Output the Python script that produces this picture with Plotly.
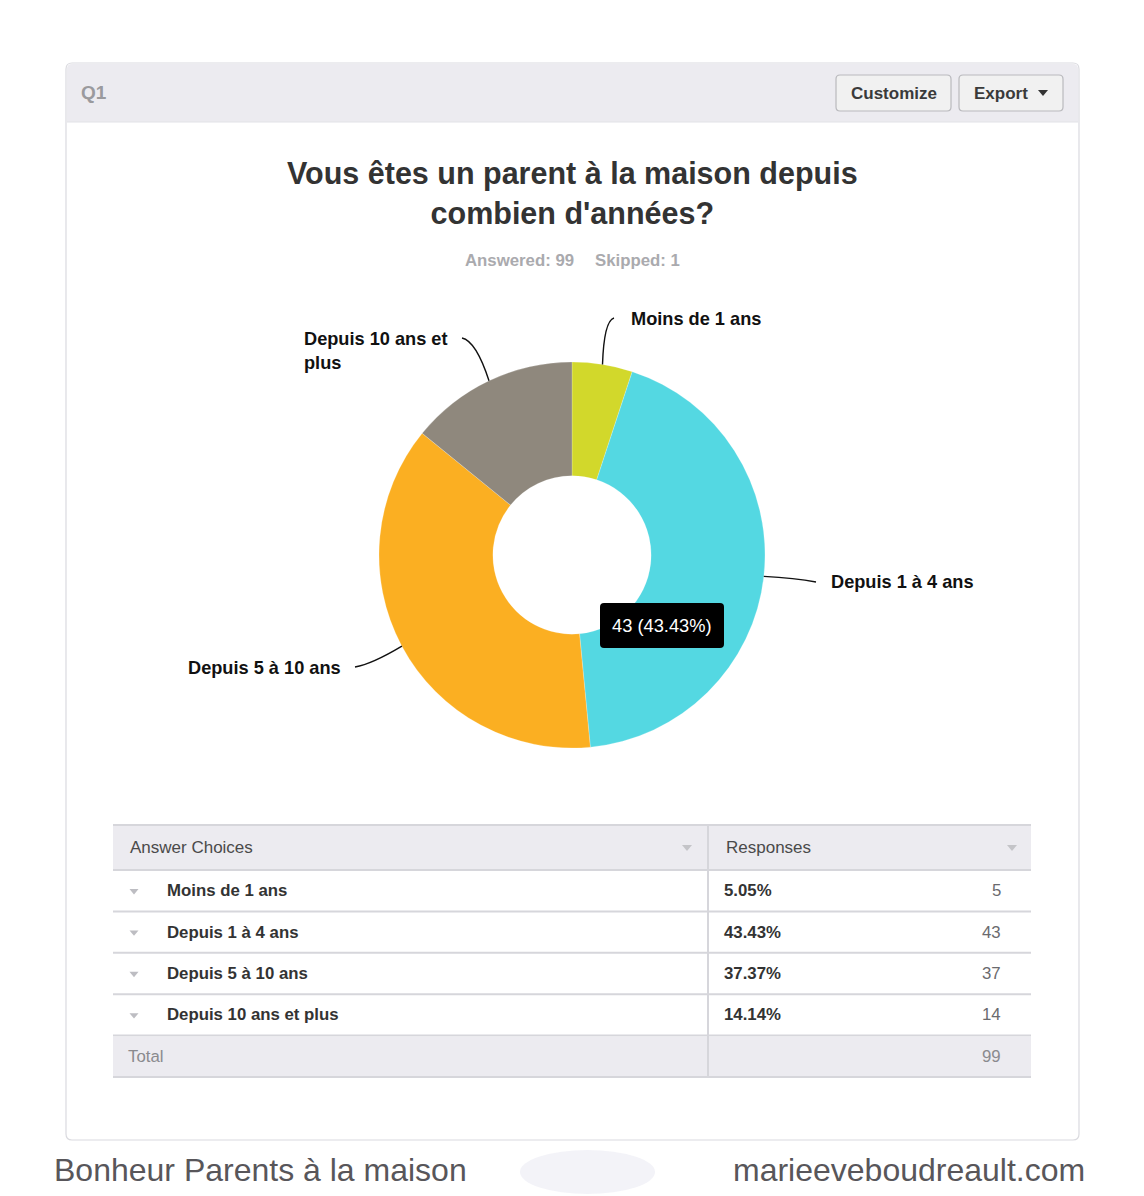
import math
import plotly.graph_objects as go

# ---------------- data ----------------
categories = ["Moins de 1 ans", "Depuis 1 à 4 ans", "Depuis 5 à 10 ans", "Depuis 10 ans et plus"]
chart_labels = ["Moins de 1 ans", "Depuis 1 à 4 ans", "Depuis 5 à 10 ans", "Depuis 10 ans et<br>plus"]
counts = [5, 43, 37, 14]
slice_colors = ["#D2D82B", "#54D8E2", "#FBAF22", "#8F887D"]
answered = 99
skipped = 1
question_id = "Q1"
title_text = "Vous êtes un parent à la maison depuis<br>combien d'années?"
table_headers = ["Answer Choices", "Responses"]
tooltip_index = 1
footer_left = "Bonheur Parents à la maison"
footer_right = "marieeveboudreault.com"

total = sum(counts)
pcts = [c / total * 100 for c in counts]

# page is 1144x1196; the html body has an 8px margin
PAGE_W, PAGE_H, OFF = 1144, 1196, 8
W, H = PAGE_W - OFF, PAGE_H - OFF
FONT = "Liberation Sans, Arial, Helvetica, sans-serif"

# pie geometry (page pixels)
CX, CY, R = 572, 555, 193
HOLE = 0.41

fig = go.Figure()
fig.add_trace(go.Pie(
    labels=categories, values=counts, sort=False, direction="clockwise",
    rotation=0, hole=HOLE, textinfo="none", hoverinfo="none",
    marker=dict(colors=slice_colors, line=dict(color="rgba(255,255,255,0.35)", width=0.6)),
    domain=dict(x=[(CX - R - OFF) / W, (CX + R - OFF) / W],
                y=[1 - (CY + R - OFF) / H, 1 - (CY - R - OFF) / H]),
    showlegend=False,
))

shapes = []
ann = []


def rrect(x0, y0, x1, y1, r, fill, line=None, lw=1, layer="below"):
    p = (f"M{x0+r},{y0} L{x1-r},{y0} Q{x1},{y0} {x1},{y0+r} L{x1},{y1-r} "
         f"Q{x1},{y1} {x1-r},{y1} L{x0+r},{y1} Q{x0},{y1} {x0},{y1-r} "
         f"L{x0},{y0+r} Q{x0},{y0} {x0+r},{y0} Z")
    shapes.append(dict(type="path", path=p, xref="x", yref="y", fillcolor=fill,
                       line=dict(color=line or fill, width=lw if line else 0), layer=layer))


def rect(x0, y0, x1, y1, fill, layer="below"):
    shapes.append(dict(type="rect", x0=x0, y0=y0, x1=x1, y1=y1, xref="x", yref="y",
                       fillcolor=fill, line=dict(width=0), layer=layer))


def hline(x0, x1, y, color, w=1):
    shapes.append(dict(type="line", x0=x0, x1=x1, y0=y, y1=y, xref="x", yref="y",
                       line=dict(color=color, width=w), layer="below"))


def vline(x, y0, y1, color, w=1):
    shapes.append(dict(type="line", x0=x, x1=x, y0=y0, y1=y1, xref="x", yref="y",
                       line=dict(color=color, width=w), layer="below"))


def tri(x, y, color, s=5):
    p = f"M{x-s},{y-s*0.6} L{x+s},{y-s*0.6} L{x},{y+s*0.6} Z"
    shapes.append(dict(type="path", path=p, xref="x", yref="y", fillcolor=color,
                       line=dict(width=0), layer="below"))


def text(x, y, t, size, color, bold=False, xanchor="left", align="left", family=FONT):
    if bold:
        t = f"<b>{t}</b>"
    # compensate the annotation's inner padding
    if xanchor == "left":
        x -= 2
    elif xanchor == "right":
        x += 2
    ann.append(dict(x=x, y=y, xref="x", yref="y", text=t, showarrow=False,
                    xanchor=xanchor, yanchor="middle", align=align,
                    font=dict(size=size, color=color, family=family)))


# ---------------- panel ----------------
rrect(66, 63, 1079, 1140, 6, "#FFFFFF", "#DADADF", 1.2)
rrect(67, 64, 1078, 122, 5, "#ECEBF0")
rect(67, 110, 1078, 122, "#ECEBF0")
hline(67, 1078, 122, "#E2E2E7", 1)
text(81, 92, question_id, 19, "#9A9A9E", bold=True)

# buttons
rrect(836, 75, 951, 111, 4, "#F1F1F1", "#B9B9BD", 1.2)
rrect(959, 75, 1063, 111, 4, "#F1F1F1", "#B9B9BD", 1.2)
text(893.5, 93, "Customize", 17, "#3A3A3A", bold=True, xanchor="center")
text(1001, 93, "Export", 17, "#3A3A3A", bold=True, xanchor="center")
tri(1043, 93, "#333333", 5)

# title and subtitle
text(572, 192.5, title_text, 30.5, "#333333", bold=True, xanchor="center", align="center")
text(574, 260, f"Answered: {answered}", 16.8, "#AAAAAE", bold=True, xanchor="right")
text(595, 260, f"Skipped: {skipped}", 16.8, "#AAAAAE", bold=True, xanchor="left")

# ---------------- leader lines & labels ----------------
label_layout = [
    dict(end=(614, 318), ctrl=(604, 321), tx=631, ty=319, xa="left"),
    dict(end=(816, 582), ctrl=(795, 578), tx=831, ty=582, xa="left"),
    dict(end=(355, 667), ctrl=(372, 664), tx=341, ty=668, xa="right"),
    dict(end=(462, 338), ctrl=(476, 341), tx=304, ty=351, xa="left"),
]
cum = 0
mids = []
for c in counts:
    mids.append((cum + c / 2) / total * 2 * math.pi)
    cum += c
for i, lay in enumerate(label_layout):
    th = mids[i]
    sx, sy = CX + R * math.sin(th), CY - R * math.cos(th)
    ex, ey = lay["end"]
    qx, qy = lay["ctrl"]
    shapes.append(dict(type="path", path=f"M{sx:.1f},{sy:.1f} Q{qx},{qy} {ex},{ey}",
                       xref="x", yref="y", line=dict(color="#111111", width=1.4),
                       layer="above"))
    text(lay["tx"], lay["ty"], chart_labels[i], 18.2, "#111111", bold=True,
         xanchor=lay["xa"], align="left")

# tooltip
rrect(600, 603, 724, 648, 4, "#000000", layer="above")
text(662, 625.5, f"{counts[tooltip_index]} ({pcts[tooltip_index]:.2f}%)", 18.3, "#FFFFFF",
     xanchor="center")

# ---------------- table ----------------
TX0, TX1, TSPLIT = 113, 1031, 708
head_top, head_bot = 825, 870
row_h = 41.4
rect(TX0, head_top, TX1, head_bot, "#ECEBF0")
hline(TX0, TX1, head_top, "#D6D6DB", 2)
hline(TX0, TX1, head_bot, "#D6D6DB", 2)
text(130, 847.5, table_headers[0], 17, "#4A4A4A")
text(726, 847.5, table_headers[1], 17, "#4A4A4A")
tri(687, 848, "#C4C4C8", 5)
tri(1012, 848, "#C4C4C8", 5)

for i, cat in enumerate(categories):
    top = head_bot + i * row_h
    bot = top + row_h
    mid = (top + bot) / 2
    hline(TX0, TX1, bot, "#D6D6DB", 2)
    tri(134, mid + 1, "#BDBDC2", 4.5)
    text(167, mid, cat, 16.8, "#333333", bold=True)
    text(724, mid, f"{pcts[i]:.2f}%", 16.8, "#333333", bold=True)
    text(1001, mid, f"{counts[i]}", 16.8, "#6A6A6E", xanchor="right")

tot_top = head_bot + len(categories) * row_h
tot_bot = tot_top + row_h
rect(TX0, tot_top + 1, TX1, tot_bot, "#ECEBF0")
hline(TX0, TX1, tot_bot, "#D6D6DB", 2)
vline(TSPLIT, head_top, tot_bot, "#D6D6DB", 2)
text(128, (tot_top + tot_bot) / 2, "Total", 16.8, "#8A8A8E")
text(1001, (tot_top + tot_bot) / 2, f"{total}", 16.8, "#8A8A8E", xanchor="right")

# ---------------- footer ----------------
shapes.append(dict(type="circle", x0=520, x1=655, y0=1150, y1=1194, xref="x", yref="y",
                   fillcolor="rgba(228,228,240,0.45)", line=dict(width=0), layer="below"))
text(54, 1170, footer_left, 32, "#58565A")
text(1085, 1170, footer_right, 32, "#58565A", xanchor="right")

fig.update_layout(
    width=W, height=H, margin=dict(l=0, r=0, t=0, b=0),
    paper_bgcolor="#FFFFFF", plot_bgcolor="rgba(0,0,0,0)",
    xaxis=dict(range=[OFF, PAGE_W], visible=False, fixedrange=True),
    yaxis=dict(range=[PAGE_H, OFF], visible=False, fixedrange=True),
    shapes=shapes, annotations=ann, showlegend=False,
)
fig.write_html("out.html", config={"displayModeBar": False})
